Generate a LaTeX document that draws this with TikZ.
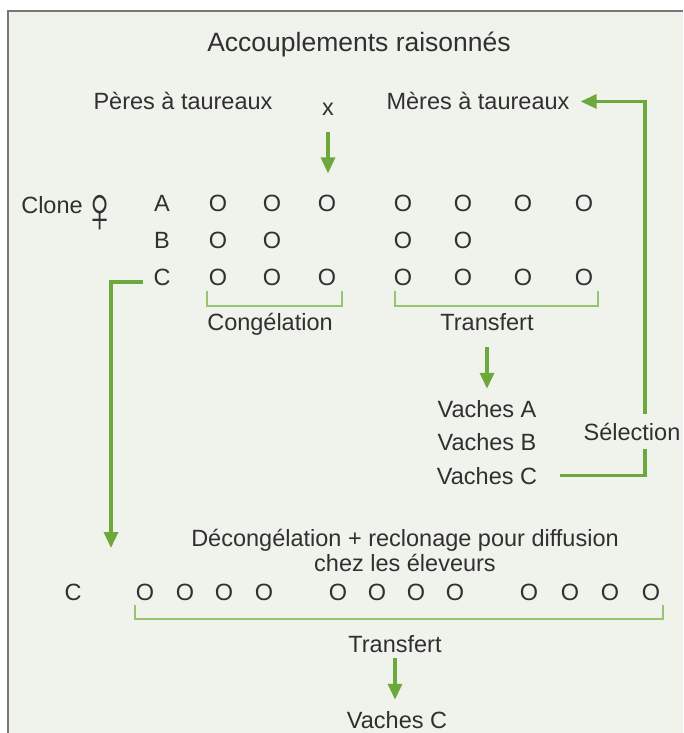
\documentclass[tikz,border=0pt]{standalone}
\usepackage{fontspec}
\setmainfont{Liberation Sans}
\usetikzlibrary{arrows.meta}

\definecolor{panelbg}{RGB}{239,243,236}
\definecolor{framegray}{RGB}{120,120,120}
\definecolor{flowgreen}{RGB}{108,168,60}
\definecolor{bracegreen}{RGB}{150,196,112}
\definecolor{inkgray}{RGB}{48,48,48}

\begin{document}
\begin{tikzpicture}[
  x=1pt, y=-1pt,
  every node/.style={font=\fontsize{23.5}{26}\selectfont, text=inkgray, inner sep=0pt, anchor=base},
  headline/.style={font=\fontsize{26.5}{30}\selectfont},
  embryo/.style={},
  flow/.style={draw=flowgreen, line width=3.3pt, -{Triangle[length=16pt,width=14pt]}},
  brace/.style={draw=bracegreen, line width=1.3pt},
  gapfill/.style={fill=panelbg, inner xsep=3pt, inner ysep=9pt}
]
\useasboundingbox (0,0) rectangle (683,733);
\fill[white] (0,0) rectangle (683,733);
\fill[panelbg] (8,11) rectangle (683,733);
\draw[framegray, line width=1.4pt] (8,733) -- (8,11) -- (683,11);

\node[headline] (title) at (359,52) {Accouplements raisonnés};
\node (peres) at (183,110) {Pères à taureaux};
\node (xmark) at (328,116) {x};
\node (meres) at (478,110) {Mères à taureaux};

\node (clone) at (52,213) {Clone};
\node[font=\fontsize{66}{66}\selectfont, anchor=center, xscale=0.75] (venus) at (100,214) {♀};
\node (la) at (162,211) {A};
\node (lb) at (162,248) {B};
\node (lc) at (162,285) {C};

% embryons par clone
\foreach \n/\x in {1/218,2/272,3/327,4/403,5/463,6/523,7/584}
  \node[embryo] (a\n) at (\x,211) {O};
\foreach \n/\x in {1/218,2/272,3/403,4/463}
  \node[embryo] (b\n) at (\x,248) {O};
\foreach \n/\x in {1/218,2/272,3/327,4/403,5/463,6/523,7/584}
  \node[embryo] (c\n) at (\x,285) {O};

\draw[brace] (207,291) |- (342,306) -- (342,291);
\draw[brace] (395,291) |- (598,306) -- (598,291);

\node (congel) at (270,330) {Congélation};
\node (transfert) at (487,330) {Transfert};
\node (vachesa) at (487,417) {Vaches A};
\node (vachesb) at (487,450) {Vaches B};
\node (vachesc) at (487,484) {Vaches C};

\node (decongel) at (405,546) {Décongélation + reclonage pour diffusion};
\node (eleveurs) at (405,571) {chez les éleveurs};

\node (cfinal) at (73,600) {C};
\foreach \n/\x in {1/145,2/185,3/224,4/264,5/338,6/377,7/416,8/455,9/529,10/570,11/610,12/651}
  \node[embryo] (d\n) at (\x,600) {O};
\draw[brace] (135,605) |- (663,619) -- (663,605);

\node (transfertb) at (395,652) {Transfert};
\node (vachescb) at (397,728) {Vaches C};

\coordinate (selcol) at (645,0);
\coordinate (downtip) at (111,548);

\draw[flow, shorten <=16pt, shorten >=21pt] (xmark.south) -- (xmark.south |- a3.north);
\draw[flow, shorten <=17pt, shorten >=11pt] (transfert.south) -- (vachesa.north);
\draw[flow] ([xshift=23pt]vachesc.east) -| (selcol |- meres.east) -- ([xshift=11pt]meres.east);
\draw[flow] ([xshift=-10pt,yshift=-5pt]lc.west) -| (downtip);
\draw[flow, shorten <=6pt, shorten >=11pt] (transfertb.south) -- (transfertb.south |- vachescb.north);

\node[gapfill] (selection) at (632,440) {Sélection};
\end{tikzpicture}
\end{document}
